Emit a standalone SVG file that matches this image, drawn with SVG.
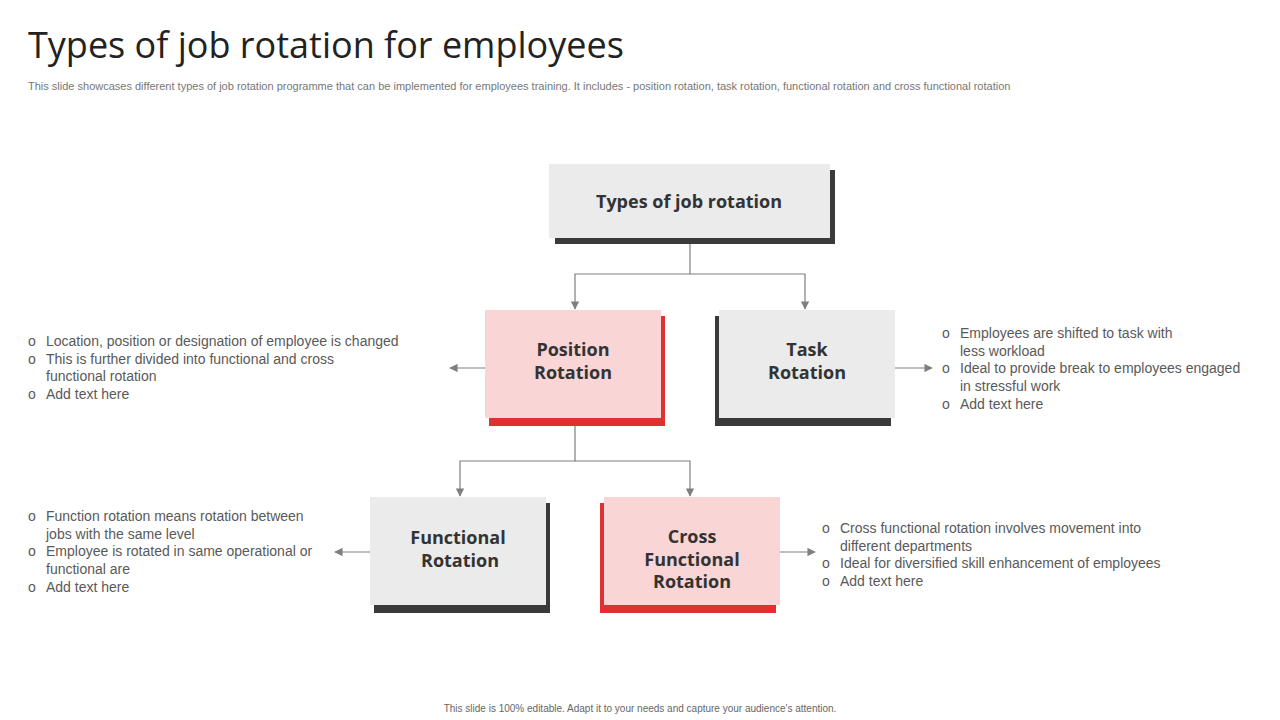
<svg xmlns="http://www.w3.org/2000/svg" width="1280" height="720" viewBox="0 0 1280 720">
<defs>
<style>
.t{font-family:"Liberation Sans",Arial,sans-serif}
.b{font-family:"Open Sans","Liberation Sans",sans-serif;font-weight:bold;font-size:18px;fill:#333;text-anchor:middle}
.d{font-family:"Liberation Sans",Arial,sans-serif;font-size:14px;fill:#595959}
.g{fill:#ebebeb}.p{fill:#f9d5d5}.k{fill:#3a3a3a}.r{fill:#e03131}
.c{stroke:#7f7f7f;stroke-width:1.2;fill:none}
</style>
<marker id="a" viewBox="0 0 10 10" refX="9" refY="5" markerWidth="7" markerHeight="7" orient="auto"><path d="M0,0L10,5L0,10z" fill="#7f7f7f"/></marker>
</defs>
<rect width="1280" height="720" fill="#fff"/>
<text x="28" y="58" font-family="'Open Sans','Liberation Sans',sans-serif" font-size="36" fill="#222">Types of job rotation  for employees</text>
<text x="28" y="90" class="t" font-size="11" fill="#777">This slide showcases different types of job rotation programme that can be implemented for employees training. It includes - position rotation, task rotation, functional rotation and cross functional rotation</text>
<g id="connectors">
<path class="c" d="M690,238V274H575V309" marker-end="url(#a)"/>
<path class="c" d="M690,274H805V309" marker-end="url(#a)"/>
<path class="c" d="M575,425V461H460V496" marker-end="url(#a)"/>
<path class="c" d="M575,461H690V496" marker-end="url(#a)"/>
<path class="c" d="M485,368H450" marker-end="url(#a)"/>
<path class="c" d="M895,368H932" marker-end="url(#a)"/>
<path class="c" d="M370,552H335" marker-end="url(#a)"/>
<path class="c" d="M780,552H815" marker-end="url(#a)"/>
</g>
<g id="top"><rect class="k" x="555" y="170" width="280" height="74"/><rect class="g" x="549" y="164" width="281" height="74"/><text class="b" x="689" y="208">Types of job rotation</text></g>
<g id="position"><rect class="r" x="489" y="316" width="176" height="110"/><rect class="p" x="485" y="310" width="176" height="108"/><text class="b" x="573" y="356">Position</text><text class="b" x="573" y="379">Rotation</text></g>
<g id="task"><rect class="k" x="715" y="316" width="176" height="110"/><rect class="g" x="719" y="310" width="176" height="108"/><text class="b" x="807" y="356">Task</text><text class="b" x="807" y="379">Rotation</text></g>
<g id="functional"><rect class="k" x="374" y="503" width="176" height="110"/><rect class="g" x="370" y="497" width="176" height="108"/><text class="b" x="458" y="544">Functional</text><text class="b" x="460" y="567">Rotation</text></g>
<g id="cross"><rect class="r" x="600" y="503" width="176" height="110"/><rect class="p" x="604" y="497" width="176" height="108"/><text class="b" x="692" y="543">Cross</text><text class="b" x="692" y="566">Functional</text><text class="b" x="692" y="588">Rotation</text></g>
<g id="text-position" class="d">
<text x="28" y="346">o</text><text x="46" y="346">Location, position or designation of employee is changed</text>
<text x="28" y="364">o</text><text x="46" y="364">This is further divided into functional and cross</text><text x="46" y="381">functional rotation</text>
<text x="28" y="399">o</text><text x="46" y="399">Add text here</text>
</g>
<g id="text-task" class="d">
<text x="942" y="338">o</text><text x="960" y="338">Employees are shifted to task with</text><text x="960" y="356">less workload</text>
<text x="942" y="373">o</text><text x="960" y="373">Ideal to provide break to employees engaged</text><text x="960" y="391">in stressful work</text>
<text x="942" y="409">o</text><text x="960" y="409">Add text here</text>
</g>
<g id="text-functional" class="d">
<text x="28" y="521">o</text><text x="46" y="521">Function rotation means rotation between</text><text x="46" y="539">jobs with the same level</text>
<text x="28" y="556">o</text><text x="46" y="556">Employee is rotated in same operational or</text><text x="46" y="574">functional are</text>
<text x="28" y="592">o</text><text x="46" y="592">Add text here</text>
</g>
<g id="text-cross" class="d">
<text x="822" y="533">o</text><text x="840" y="533">Cross functional rotation involves movement into</text><text x="840" y="551">different departments</text>
<text x="822" y="568">o</text><text x="840" y="568">Ideal for diversified skill enhancement of employees</text>
<text x="822" y="586">o</text><text x="840" y="586">Add text here</text>
</g>
<text x="640" y="712" class="t" font-size="10" fill="#666" text-anchor="middle">This slide is 100% editable. Adapt it to your needs and capture your audience's attention.</text>
</svg>
